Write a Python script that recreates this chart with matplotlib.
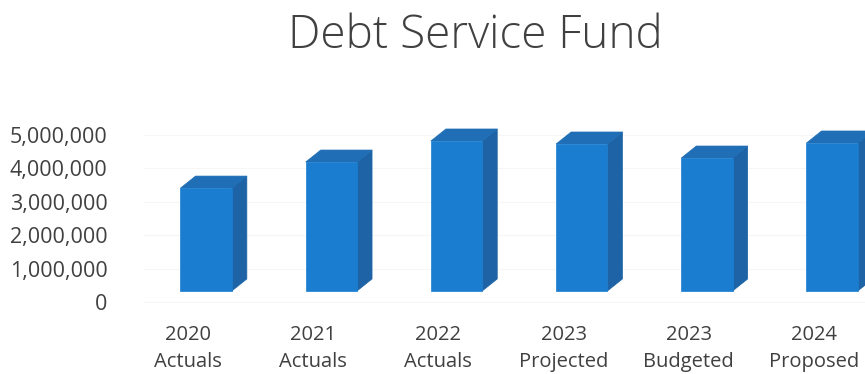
"""
Debt Service Fund - 3-D style column chart (front, side and top faces
drawn as polygons in an oblique projection)
"""

### Import modules
import numpy as np
import matplotlib
matplotlib.use('Agg')
import matplotlib.pyplot as plt
from matplotlib.patches import Polygon
from matplotlib.ticker import FuncFormatter

### Data
years = ['2020', '2021', '2022', '2023', '2023', '2024']
kinds = ['Actuals', 'Actuals', 'Actuals', 'Projected', 'Budgeted', 'Proposed']
fund = [3080000, 3860000, 4490000, 4400000, 3980000, 4430000]
yticks = [0, 1000000, 2000000, 3000000, 4000000, 5000000]

### Layout in pixels (figure is 865 x 374 at dpi 100)
W, H = 865, 374
x0px, xstep = 188., 125.2       # first category / spacing
y0px, ystep = 302., 33.4        # zero line / pixels per million
xlim = (-0.6, 5.6)
ylim = (-0.5e6, 5.6e6)

### Oblique offsets in data units
width = 0.41                    # front face width (categories)
setx, sety = 0.145, 0.33e6      # bar set back from floor front
depx, depy = 0.12, 0.36e6       # bar depth

front = '#1a7dcf'
side = '#1d63a6'
top = '#1f6eb6'

plt.rcParams['font.family'] = ['Open Sans', 'DejaVu Sans']

fig = plt.figure(figsize=(W/100., H/100.), dpi=100)
left = x0px + xlim[0]*xstep
right = x0px + xlim[1]*xstep
bot = y0px - ylim[0]/1e6*ystep
tp = y0px - ylim[1]/1e6*ystep
ax = fig.add_axes([left/W, 1-bot/H, (right-left)/W, (bot-tp)/H])
ax.set_xlim(xlim)
ax.set_ylim(ylim)
for s in ax.spines.values():
    s.set_visible(False)

### Faint back-wall gridlines
for t in yticks:
    ax.plot([-0.35, 5.6], [t, t], color='#f6f6f6', linewidth=0.8, zorder=0)

### Draw columns
for i, v in enumerate(fund):
    xl = i + setx - width/2.
    xr = i + setx + width/2.
    yb = sety
    yt = sety + v
    ax.add_patch(Polygon([(xr, yb), (xr+depx, yb+depy), (xr+depx, yt+depy),
                          (xr, yt)], closed=True, fc=side, ec=side, lw=0.5,
                         zorder=2))
    ax.add_patch(Polygon([(xl, yt), (xl+depx, yt+depy), (xr+depx, yt+depy),
                          (xr, yt)], closed=True, fc=top, ec=top, lw=0.5,
                         zorder=2))
    ax.add_patch(Polygon([(xl, yb), (xr, yb), (xr, yt), (xl, yt)],
                         closed=True, fc=front, ec=front, lw=0.5, zorder=3))

### Axis labels
ax.set_yticks(yticks)
ax.yaxis.set_major_formatter(FuncFormatter(lambda v, p: '{:,.0f}'.format(v)))
ax.set_xticks(np.arange(len(fund)))
ax.set_xticklabels([y + '\n' + k for y, k in zip(years, kinds)],
                   linespacing=1.5)
ax.tick_params(axis='y', length=0, pad=4, labelsize=15.5, labelcolor='#404040')
ax.tick_params(axis='x', length=0, pad=4.5, labelsize=14.5, labelcolor='#404040')

fig.text(475./W, 1-36./H, 'Debt Service Fund', ha='center', va='center',
         fontsize=33, color='#404040', fontweight='light')

plt.savefig('out.png', dpi=100, facecolor='white')
